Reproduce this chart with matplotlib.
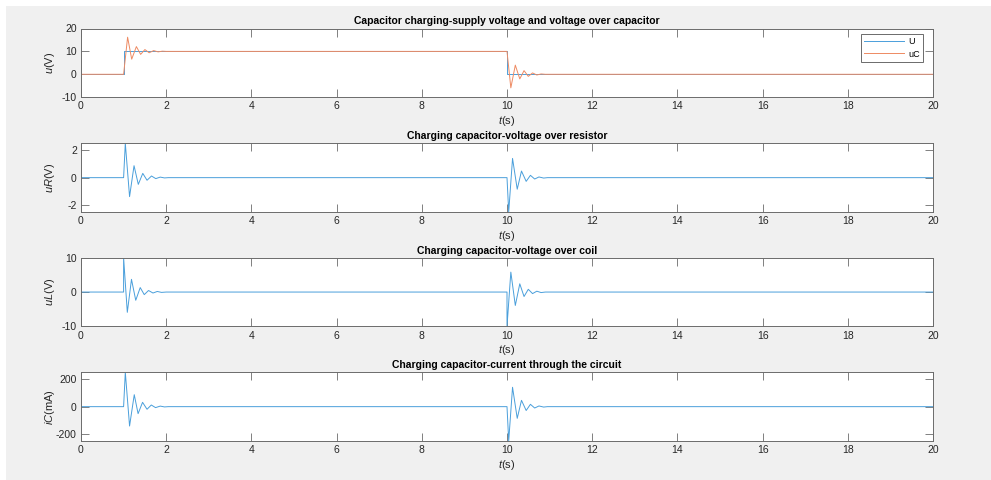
import numpy as np
import matplotlib
matplotlib.use("Agg")
import matplotlib.pyplot as plt
from matplotlib.patches import Rectangle

plt.rcParams['font.family'] = ['Liberation Sans', 'DejaVu Sans']
plt.rcParams['mathtext.fontset'] = 'custom'
plt.rcParams['mathtext.it'] = 'Liberation Sans:italic'
plt.rcParams['mathtext.rm'] = 'Liberation Sans'
plt.rcParams['axes.unicode_minus'] = False

# --- data (extrema of the damped RLC response) ---
t_U = [0, 1.0, 1.0, 10.0, 10.0, 20]
U = [0, 0, 10, 10, 0, 0]

t_uC = [0, 1.0, 1.094, 1.19, 1.30, 1.40, 1.50, 1.60, 1.705, 1.81, 1.91, 2.0,
        10.0, 10.09, 10.195, 10.30, 10.40, 10.50, 10.60, 10.70, 10.80, 10.90, 20]
uC = [0, 0, 16.2, 6.6, 12.1, 8.7, 10.8, 9.4, 10.35, 9.8, 10.1, 10,
      10, -5.9, 4.0, -2.0, 1.6, -0.9, 0.6, -0.3, 0.15, 0, 0]

t_uR = [0, 1.0, 1.04, 1.14, 1.245, 1.345, 1.45, 1.55, 1.655, 1.755, 1.86, 1.96, 2.05,
        10.0, 10.04, 10.13, 10.24, 10.34, 10.45, 10.55, 10.65, 10.75, 10.86, 10.95, 20]
uR = [0, 0, 2.5, -1.38, 0.87, -0.49, 0.31, -0.19, 0.12, -0.07, 0.04, -0.02, 0,
      0, -2.5, 1.40, -0.84, 0.48, -0.27, 0.17, -0.10, 0.05, -0.03, 0, 0]

t_uL = [0, 1.0, 1.0, 1.087, 1.185, 1.285, 1.39, 1.485, 1.585, 1.69, 1.79, 1.89, 2.0,
        10.0, 10.0, 10.09, 10.195, 10.30, 10.40, 10.50, 10.60, 10.70, 10.80, 10.90, 20]
uL = [0, 0, 10, -5.9, 3.7, -2.4, 1.3, -0.75, 0.45, -0.28, 0.17, -0.1, 0,
      0, -10, 5.8, -3.9, 2.4, -1.3, 0.8, -0.45, 0.25, -0.15, 0, 0]

t_iC = [0, 1.0, 1.04, 1.14, 1.25, 1.34, 1.445, 1.55, 1.65, 1.75, 1.86, 1.96, 2.05,
        10.0, 10.04, 10.13, 10.24, 10.34, 10.45, 10.55, 10.65, 10.75, 10.86, 10.95, 20]
iC = [0, 0, 250, -141, 87, -51, 31.5, -19, 12, -7, 4, -2, 0,
      0, -250, 141, -85, 46, -28, 17, -10, 5, -3, 0, 0]

titles = ["Capacitor charging-supply voltage and voltage over capacitor",
          "Charging capacitor-voltage over resistor",
          "Charging capacitor-voltage over coil",
          "Charging capacitor-current through the circuit"]
ylabels = ["$u$(V)", "$uR$(V)", "$uL$(V)", "$iC$(mA)"]
ylims = [(-10, 20), (-2.5, 2.5), (-10, 10), (-250, 250)]
yticks = [[-10, 0, 10, 20], [-2, 0, 2], [-10, 0, 10], [-200, 0, 200]]

blue, orange = "#4a9fdb", "#ee8a62"
edge = "#6b6b6b"

fig = plt.figure(figsize=(9.91, 4.8), dpi=100, facecolor="white")
fig.patches.append(Rectangle((6/991, 0), 1, 1 - 6/480, transform=fig.transFigure,
                             facecolor="#f0f0f0", edgecolor="none", zorder=-10))

left, width, h = 81/991, 852/991, 68.7/480
tops = [28.5, 143.3, 257.7, 372.3]
axes = [fig.add_axes([left, 1 - (tp + 68.7)/480, width, h]) for tp in tops]

lu, = axes[0].plot(t_U, U, color=blue, lw=0.7, label="U")
lc, = axes[0].plot(t_uC, uC, color=orange, lw=0.7, label="uC")
axes[1].plot(t_uR, uR, color=blue, lw=0.7)
axes[2].plot(t_uL, uL, color=blue, lw=0.7)
axes[3].plot(t_iC, iC, color=blue, lw=0.7)

for ax, ttl, yl, lim, yt in zip(axes, titles, ylabels, ylims, yticks):
    ax.set_xlim(0, 20)
    ax.set_ylim(*lim)
    ax.set_xticks(range(0, 21, 2))
    ax.set_yticks(yt)
    ax.set_title(ttl, fontsize=7.5, fontweight="bold", pad=3, color="black")
    ax.set_xlabel("$t$(s)", fontsize=8, color="#262626", labelpad=2)
    ax.set_ylabel(yl, fontsize=8, color="#262626")
    ax.yaxis.set_label_coords(-0.028, 0.5)
    ax.tick_params(direction="in", length=6, width=0.6, colors=edge, labelcolor="#262626",
                   labelsize=7.5, top=True, right=True, pad=3)
    for s in ax.spines.values():
        s.set_color(edge)
        s.set_linewidth(0.7)

leg = axes[0].legend(handles=[lu, lc], loc="upper right", fontsize=6.5, frameon=True,
                     fancybox=False, edgecolor=edge, framealpha=1, handlelength=4.5,
                     borderpad=0.35, labelspacing=0.35, handletextpad=0.4,
                     borderaxespad=0, bbox_to_anchor=(0.988, 0.915))
leg.get_frame().set_linewidth(0.7)
for hl, c in zip(leg.get_lines(), [blue, orange]):
    hl.set_color(c)

fig.savefig("out.png", dpi=100, facecolor=fig.get_facecolor())
